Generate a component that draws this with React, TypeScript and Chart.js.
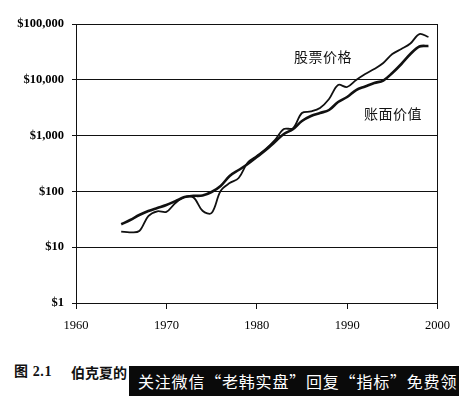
import React, { useEffect, useRef } from "react";
import { Chart, registerables } from "chart.js";

Chart.register(...registerables);

const years = [
  1965, 1966, 1967, 1968, 1969, 1970, 1971, 1972, 1973, 1974,
  1975, 1976, 1977, 1978, 1979, 1980, 1981, 1982, 1983, 1984,
  1985, 1986, 1987, 1988, 1989, 1990, 1991, 1992, 1993, 1994,
  1995, 1996, 1997, 1998, 1999,
];

// 股票价格 (stock price)
const stockPrice = [
  19, 18.5, 19.5, 36, 44, 43, 62, 79, 78, 45,
  41, 102, 141, 174, 330, 431, 575, 830, 1313, 1350,
  2540, 2705, 3125, 4530, 8070, 7430, 9910, 12700, 15600, 20000,
  29000, 35600, 44700, 66100, 58500,
];

// 账面价值 (book value)
const bookValue = [
  25.8, 30.7, 37.8, 44.5, 50.4, 57, 67, 79, 83, 84.5,
  97.5, 125, 189, 242, 310, 413, 552, 768, 1069, 1300,
  1828, 2245, 2540, 2877, 4003, 4917, 6560, 7585, 8770, 9710,
  13240, 19200, 28980, 39500, 40350,
];

const yTickValues = [1, 10, 100, 1000, 10000, 100000];
const yTickLabels = ["$1", "$10", "$100", "$1,000", "$10,000", "$100,000"];
const xTickValues = [1960, 1970, 1980, 1990, 2000];
const xTickLabels = ["1960", "1970", "1980", "1990", "2000"];

const stockLabel = "股票价格";
const bookLabel = "账面价值";
const captionNumber = "图 2.1";
const captionText = "伯克夏的";
const watermarkText = "关注微信“老韩实盘”回复“指标”免费领";

export default function App() {
  const canvasRef = useRef<HTMLCanvasElement | null>(null);

  useEffect(() => {
    if (!canvasRef.current) return;
    const chart = new Chart(canvasRef.current, {
      type: "line",
      data: {
        datasets: [
          {
            label: bookLabel,
            data: years.map((y, i) => ({ x: y, y: bookValue[i] })),
            borderColor: "#111",
            borderWidth: 2.6,
            pointRadius: 0,
            tension: 0.35,
            fill: false,
          },
          {
            label: stockLabel,
            data: years.map((y, i) => ({ x: y, y: stockPrice[i] })),
            borderColor: "#111",
            borderWidth: 1.8,
            pointRadius: 0,
            tension: 0.35,
            fill: false,
          },
        ],
      },
      options: {
        animation: false,
        responsive: false,
        devicePixelRatio: 1,
        layout: { padding: { left: 0, right: 17, top: 24, bottom: 0 } },
        plugins: {
          legend: { display: false },
          tooltip: { enabled: false },
        },
        scales: {
          x: {
            type: "linear",
            min: 1960,
            max: 2000,
            afterBuildTicks: (s: any) => {
              s.ticks = xTickValues.map((v) => ({ value: v }));
            },
            afterFit: (s: any) => {
              s.height = 37;
            },
            ticks: {
              color: "#000",
              padding: 9,
              maxRotation: 0,
              callback: (v: any) => {
                const i = xTickValues.indexOf(Number(v));
                return i >= 0 ? xTickLabels[i] : "";
              },
              font: { family: "'Liberation Serif', serif", size: 12.5 },
            },
            grid: {
              color: (ctx: any) =>
                ctx.tick && ctx.tick.value === 2000 ? "#111" : "rgba(0,0,0,0)",
              tickColor: "#111",
              tickLength: 6,
              lineWidth: 1,
            },
            border: { display: true, color: "#111", width: 1 },
          },
          y: {
            type: "logarithmic",
            min: 1,
            max: 100000,
            afterBuildTicks: (s: any) => {
              s.ticks = yTickValues.map((v) => ({ value: v }));
            },
            afterFit: (s: any) => {
              s.width = 76;
            },
            ticks: {
              color: "#000",
              padding: 8,
              callback: (v: any) => {
                const i = yTickValues.indexOf(Number(v));
                return i >= 0 ? yTickLabels[i] : "";
              },
              font: { family: "'Liberation Serif', serif", size: 12.5, weight: "bold" },
            },
            grid: {
              color: "#111",
              tickColor: "#111",
              tickLength: 4,
              lineWidth: 1,
            },
            border: { display: true, color: "#111", width: 1 },
          },
        },
      },
    });
    return () => chart.destroy();
  }, []);

  const cjk = "'Noto Sans CJK SC', sans-serif";

  return (
    <div
      style={{
        position: "absolute",
        left: 0,
        top: 0,
        width: 459,
        height: 396,
        background: "#fff",
        overflow: "hidden",
      }}
    >
      <canvas
        ref={canvasRef}
        width={459}
        height={340}
        style={{ position: "absolute", left: 0, top: 0, width: 459, height: 340 }}
      />
      <div
        style={{
          position: "absolute",
          left: 294,
          top: 49,
          fontFamily: cjk,
          fontSize: 14,
          lineHeight: "15px",
          letterSpacing: 0.5,
          color: "#111",
          whiteSpace: "nowrap",
        }}
      >
        {stockLabel}
      </div>
      <div
        style={{
          position: "absolute",
          left: 364,
          top: 106,
          fontFamily: cjk,
          fontSize: 14,
          lineHeight: "15px",
          letterSpacing: 0.5,
          color: "#111",
          whiteSpace: "nowrap",
        }}
      >
        {bookLabel}
      </div>
      <div
        style={{
          position: "absolute",
          left: 14,
          top: 364,
          fontFamily: "'Liberation Serif', " + cjk,
          fontSize: 14,
          lineHeight: "16px",
          fontWeight: "bold",
          letterSpacing: 0.6,
          color: "#111",
          whiteSpace: "nowrap",
        }}
      >
        {captionNumber}
      </div>
      <div
        style={{
          position: "absolute",
          left: 71,
          top: 364,
          fontFamily: cjk,
          fontSize: 14,
          lineHeight: "16px",
          fontWeight: "bold",
          color: "#111",
          whiteSpace: "nowrap",
        }}
      >
        {captionText}
      </div>
      <div
        style={{
          position: "absolute",
          left: 129,
          top: 366,
          width: 330,
          height: 30,
          background: "#0a0a0a",
          color: "#fff",
          fontFamily: cjk,
          fontSize: 16,
          lineHeight: "30px",
          letterSpacing: 0.8,
          paddingLeft: 9,
          boxSizing: "border-box",
          whiteSpace: "nowrap",
          overflow: "hidden",
        }}
      >
        {watermarkText}
      </div>
    </div>
  );
}
